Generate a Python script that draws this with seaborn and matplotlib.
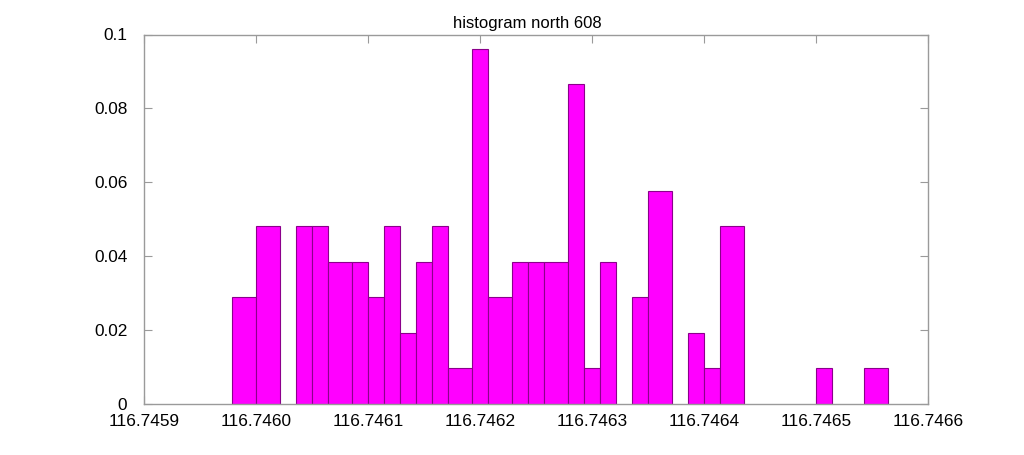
import numpy as np
import pandas as pd
import matplotlib
matplotlib.use("Agg")
import matplotlib.pyplot as plt
import seaborn as sns

# Bin edges (longitude), including empty-bin gaps
bin_edges = [116.7459786, 116.7460000, 116.7460214, 116.7460357, 116.7460500,
             116.7460643, 116.7460857, 116.7461000, 116.7461143, 116.7461286,
             116.7461429, 116.7461571, 116.7461714, 116.7461929, 116.7462071,
             116.7462286, 116.7462429, 116.7462571, 116.7462786, 116.7462929,
             116.7463071, 116.7463214, 116.7463357, 116.7463500, 116.7463714,
             116.7463857, 116.7464000, 116.7464143, 116.7464357, 116.7465000,
             116.7465143, 116.7465429, 116.7465643]
# Relative frequency of each bin (0 = empty gap)
frequencies = [0.02885, 0.04808, 0.0, 0.04808, 0.04808,
               0.03846, 0.03846, 0.02885, 0.04808, 0.01923,
               0.03846, 0.04808, 0.00962, 0.09615, 0.02885,
               0.03846, 0.03846, 0.03846, 0.08654, 0.00962,
               0.03846, 0.0, 0.02885, 0.05769, 0.0,
               0.01923, 0.00962, 0.04808, 0.0, 0.00962,
               0.0, 0.00962]
x_ticks = [116.7459, 116.7460, 116.7461, 116.7462, 116.7463, 116.7464, 116.7465, 116.7466]
x_tick_labels = ["116.7459", "116.7460", "116.7461", "116.7462", "116.7463",
                 "116.7464", "116.7465", "116.7466"]
y_ticks = [0, 0.02, 0.04, 0.06, 0.08, 0.1]
y_tick_labels = ["0", "0.02", "0.04", "0.06", "0.08", "0.1"]
title = "histogram north 608"

edges = np.array(bin_edges)
centers = (edges[:-1] + edges[1:]) / 2
df = pd.DataFrame({"lon": centers, "freq": frequencies})

sns.set_theme(style="white")
plt.rcParams["font.family"] = ["Liberation Sans", "DejaVu Sans"]

fig = plt.figure(figsize=(10.24, 4.55), dpi=100)
ax = fig.add_axes([144 / 1024, 1 - 404 / 455, (928 - 144) / 1024, (404 - 34.5) / 455])

sns.histplot(data=df, x="lon", weights="freq", bins=list(bin_edges), stat="count",
             color="#ff00ff", edgecolor="#8b008b", linewidth=0.8, alpha=1.0, ax=ax)

for p in list(ax.patches):
    if p.get_height() <= 0:
        p.remove()

ax.set_xlim(116.7459, 116.7466)
ax.set_ylim(0, 0.1)
ax.set_xticks(x_ticks)
ax.set_xticklabels(x_tick_labels)
ax.set_yticks(y_ticks)
ax.set_yticklabels(y_tick_labels)
ax.set_xlabel("")
ax.set_ylabel("")
ax.set_title(title, fontsize=12, pad=5, color="black", x=(527.7 - 144) / 784)

for s in ax.spines.values():
    s.set_visible(True)
    s.set_color("#9a9a9a")
    s.set_linewidth(1.0)

ax.tick_params(axis="both", which="both", direction="in", length=6, width=0.8,
               color="#9a9a9a", labelsize=12.4, labelcolor="black",
               top=True, right=True, bottom=True, left=True)
ax.tick_params(axis="x", pad=7)
ax.tick_params(axis="y", pad=12)
ax.grid(False)

fig.savefig("out.png", dpi=100, facecolor="white")
